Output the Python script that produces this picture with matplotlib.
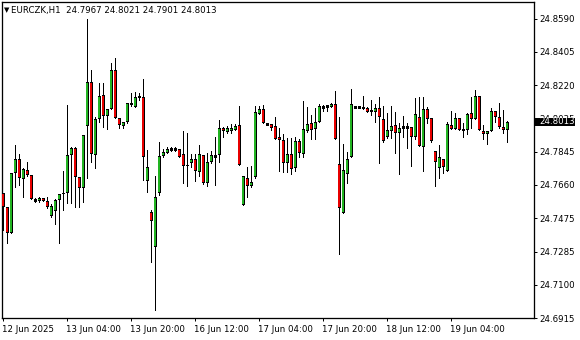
import matplotlib
matplotlib.use("Agg")
import matplotlib.pyplot as plt
import matplotlib.transforms as mtrans
from matplotlib.patches import Rectangle
from matplotlib.transforms import blended_transform_factory

# ── EURCZK H1 candles (oldest first) ─────────────────────────
SYMBOL = "EURCZK,H1"

opens = [
    24.7615, 24.7537, 24.7391, 24.7727, 24.7806, 24.7694, 24.7744, 24.7716, 24.7576, 24.7570,
    24.7587, 24.7570, 24.7486, 24.7514, 24.7576, 24.7610, 24.7615, 24.7828, 24.7867, 24.7705,
    24.7643, 24.7990, 24.8237, 24.7828, 24.8030, 24.8164, 24.8046, 24.8086, 24.8304, 24.8035,
    24.7990, 24.8013, 24.8119, 24.8097, 24.8158, 24.8153, 24.7682, 24.7509, 24.7313, 24.7615,
    24.7822, 24.7839, 24.7862, 24.7862, 24.7862, 24.7834, 24.7772, 24.7783, 24.7806, 24.7733,
    24.7828, 24.7671, 24.7789, 24.7822, 24.7828, 24.7979, 24.7957, 24.7962, 24.7968, 24.7996,
    24.7548, 24.7699, 24.7654, 24.7705, 24.8058, 24.8086, 24.8002, 24.8002, 24.7990, 24.7929,
    24.7912, 24.7783, 24.7834, 24.7755, 24.7906, 24.7834, 24.7962, 24.8007, 24.7974, 24.8013,
    24.8097, 24.8102, 24.8097, 24.8114, 24.7778, 24.7503, 24.7722, 24.7817, 24.8097, 24.8097,
    24.8097, 24.8091, 24.8080, 24.8069, 24.8091, 24.8030, 24.7929, 24.7962, 24.7996, 24.7951,
    24.7985, 24.7985, 24.7985, 24.7929, 24.8041, 24.7873, 24.8086, 24.8035, 24.7850, 24.7755,
    24.7806, 24.7738, 24.7996, 24.7974, 24.8035, 24.7974, 24.7968, 24.8063, 24.8030, 24.8158,
    24.7962, 24.7946, 24.7962, 24.8074, 24.8041, 24.7985, 24.7967,
]
highs = [
    24.7615, 24.7537, 24.7727, 24.7884, 24.7834, 24.7755, 24.7789, 24.7716, 24.7587, 24.7593,
    24.7587, 24.7593, 24.7554, 24.7582, 24.7610, 24.7738, 24.8108, 24.7873, 24.7873, 24.7705,
    24.7940, 24.8590, 24.8304, 24.8041, 24.8231, 24.8231, 24.8086, 24.8343, 24.8371, 24.8035,
    24.8013, 24.8119, 24.8175, 24.8181, 24.8175, 24.8254, 24.7856, 24.7520, 24.7710, 24.7901,
    24.7862, 24.7873, 24.7873, 24.7873, 24.7862, 24.7962, 24.7951, 24.7834, 24.7834, 24.7884,
    24.7828, 24.7839, 24.7850, 24.7929, 24.8024, 24.7985, 24.7990, 24.8002, 24.8002, 24.8102,
    24.7710, 24.7761, 24.7766, 24.8102, 24.8102, 24.8108, 24.8007, 24.8002, 24.8041, 24.7979,
    24.7946, 24.7923, 24.7923, 24.7929, 24.7918, 24.8130, 24.8097, 24.8052, 24.8091, 24.8114,
    24.8108, 24.8108, 24.8119, 24.8186, 24.8041, 24.7890, 24.7845, 24.8198, 24.8102, 24.8097,
    24.8158, 24.8097, 24.8136, 24.8114, 24.8153, 24.8102, 24.8063, 24.8102, 24.8069, 24.8007,
    24.8046, 24.8007, 24.7985, 24.8147, 24.8153, 24.8153, 24.8097, 24.8035, 24.7850, 24.7884,
    24.7806, 24.8013, 24.8074, 24.8063, 24.8035, 24.8007, 24.8063, 24.8153, 24.8192, 24.8158,
    24.7996, 24.7962, 24.8091, 24.8074, 24.8119, 24.8080, 24.8021,
]
lows = [
    24.7408, 24.7335, 24.7391, 24.7649, 24.7660, 24.7593, 24.7710, 24.7582, 24.7565, 24.7565,
    24.7570, 24.7531, 24.7481, 24.7442, 24.7335, 24.7520, 24.7559, 24.7559, 24.7537, 24.7537,
    24.7565, 24.7699, 24.7789, 24.7755, 24.8013, 24.7985, 24.7974, 24.8086, 24.8035, 24.7979,
    24.7979, 24.8007, 24.8102, 24.8097, 24.8136, 24.7688, 24.7621, 24.7229, 24.6960, 24.7604,
    24.7817, 24.7839, 24.7850, 24.7850, 24.7817, 24.7671, 24.7654, 24.7761, 24.7682, 24.7710,
    24.7666, 24.7654, 24.7783, 24.7660, 24.7789, 24.7929, 24.7951, 24.7951, 24.7968, 24.7772,
    24.7548, 24.7593, 24.7649, 24.7699, 24.8058, 24.8007, 24.7996, 24.7968, 24.7918, 24.7738,
    24.7733, 24.7733, 24.7722, 24.7738, 24.7817, 24.7817, 24.7957, 24.7918, 24.7918, 24.8013,
    24.8074, 24.8074, 24.8097, 24.7918, 24.7274, 24.7503, 24.7671, 24.7817, 24.8097, 24.8091,
    24.8086, 24.8069, 24.8052, 24.8013, 24.7783, 24.7901, 24.7923, 24.7923, 24.7839, 24.7722,
    24.7929, 24.7867, 24.7766, 24.7918, 24.7878, 24.7738, 24.8007, 24.7901, 24.7654, 24.7699,
    24.7727, 24.7738, 24.7974, 24.7974, 24.7968, 24.7929, 24.7946, 24.7979, 24.8030, 24.7968,
    24.7918, 24.7890, 24.7962, 24.8013, 24.7979, 24.7951, 24.7901,
]
closes = [
    24.7537, 24.7391, 24.7727, 24.7806, 24.7699, 24.7750, 24.7716, 24.7582, 24.7576, 24.7587,
    24.7570, 24.7537, 24.7542, 24.7576, 24.7610, 24.7615, 24.7828, 24.7867, 24.7705, 24.7643,
    24.7940, 24.8237, 24.7834, 24.8030, 24.8158, 24.8046, 24.8086, 24.8304, 24.8035, 24.7996,
    24.8013, 24.8119, 24.8108, 24.8153, 24.8147, 24.7817, 24.7761, 24.7458, 24.7593, 24.7822,
    24.7845, 24.7862, 24.7862, 24.7862, 24.7817, 24.7766, 24.7766, 24.7806, 24.7738, 24.7834,
    24.7671, 24.7789, 24.7828, 24.7822, 24.7979, 24.7962, 24.7979, 24.7979, 24.7990, 24.7772,
    24.7710, 24.7654, 24.7677, 24.8069, 24.8086, 24.8007, 24.8002, 24.7979, 24.7918, 24.7912,
    24.7783, 24.7834, 24.7750, 24.7906, 24.7839, 24.7974, 24.8002, 24.7968, 24.8013, 24.8102,
    24.8097, 24.8102, 24.8114, 24.7918, 24.7531, 24.7744, 24.7806, 24.8114, 24.8097, 24.8097,
    24.8086, 24.8069, 24.8069, 24.8091, 24.8041, 24.7906, 24.7968, 24.7990, 24.7951, 24.7979,
    24.7985, 24.7985, 24.7929, 24.8058, 24.7878, 24.8086, 24.8030, 24.7906, 24.7789, 24.7817,
    24.7761, 24.8002, 24.7974, 24.8035, 24.7968, 24.7962, 24.8058, 24.8030, 24.8158, 24.7968,
    24.7946, 24.7962, 24.8074, 24.8041, 24.7985, 24.7968, 24.8013,
]

# time labels every 16 bars, price scale labels as printed by the terminal
time_tick_bars = [0, 16, 32, 48, 64, 80, 96, 112]
time_tick_labels = ["12 Jun 2025", "13 Jun 04:00", "13 Jun 20:00", "16 Jun 12:00",
                    "17 Jun 04:00", "17 Jun 20:00", "18 Jun 12:00", "19 Jun 04:00"]
price_ticks = [24.8590, 24.8405, 24.8220, 24.8035, 24.7845,
               24.7660, 24.7475, 24.7285, 24.7100, 24.6915]

BULL = "#22B422"
BEAR = "#E80000"
FONT = "DejaVu Sans"
FS = 6.2
PX = 0.72      # one pixel in points at dpi 100
INSET = 0.0006  # about one pixel in price units

fig = plt.figure(figsize=(5.8, 3.4), dpi=100)
fig.patch.set_facecolor("white")
ax = fig.add_axes([2 / 580, 22 / 340, 532 / 580, 316 / 340])

n = len(closes)
xs = list(range(n))

# wicks
ax.vlines(xs, lows, highs, color="black", linewidth=PX, zorder=2,
          antialiased=False)

# bodies: black frame with a thin coloured core, doji as a short dash
for i in xs:
    o, c = opens[i], closes[i]
    lo, hi = min(o, c), max(o, c)
    if hi - lo < 0.0002:
        ax.hlines(lo, i - 0.35, i + 0.35, color="black",
                  linewidth=PX * 1.4, zorder=3, antialiased=False)
        continue
    ax.bar(i, hi - lo, bottom=lo, width=0.75, color="black",
           linewidth=0, zorder=3, antialiased=False)
    if hi - lo > 2 * INSET:
        ax.bar(i, hi - lo - 2 * INSET, bottom=lo + INSET, width=0.32,
               color=BULL if c > o else BEAR, linewidth=0, zorder=4,
               antialiased=False)

ax.set_xlim(-0.25, 132.75)
ax.set_ylim(24.6915, 24.8685)

for sp in ax.spines.values():
    sp.set_linewidth(PX * 1.3)
    sp.set_color("black")

ax.yaxis.tick_right()
ax.set_yticks(price_ticks)
ax.set_yticklabels([f"{p:.4f}" for p in price_ticks], fontsize=FS, family=FONT)
ax.tick_params(axis="y", direction="out", length=2.5, width=PX, pad=1.5)

ax.set_xticks(time_tick_bars)
ax.set_xticklabels(time_tick_labels, fontsize=FS, family=FONT, ha="left")
ax.tick_params(axis="x", direction="out", length=2, width=PX, pad=3)

# x labels start right at their tick
offset = mtrans.ScaledTranslation(-1 / 100, 0, fig.dpi_scale_trans)
for lbl in ax.get_xticklabels():
    lbl.set_transform(lbl.get_transform() + offset)

# current price marker on the price scale
last = closes[-1]
blend = blended_transform_factory(ax.transAxes, ax.transData)
box_h = 0.0049
ax.add_patch(Rectangle((1.0, last - box_h / 2), 41 / 532, box_h, transform=blend,
                       facecolor="black", edgecolor="none", clip_on=False, zorder=10))
ax.text(1.0 + 5 / 532, last, f"{last:.4f}", transform=blend, color="white",
        fontsize=FS, family=FONT, va="center", ha="left", zorder=11, clip_on=False)

# header line with last bar OHLC
ax.text(2 / 532, 1 - 8 / 316, "\u25bc", transform=ax.transAxes, fontsize=5,
        family=FONT, va="center", ha="left")
header = f"{SYMBOL}  {opens[-1]:.4f} {highs[-1]:.4f} {lows[-1]:.4f} {closes[-1]:.4f}"
ax.text(9 / 532, 1 - 8 / 316, header, transform=ax.transAxes, fontsize=FS,
        family=FONT, va="center", ha="left")

fig.savefig("out.png", dpi=100)
